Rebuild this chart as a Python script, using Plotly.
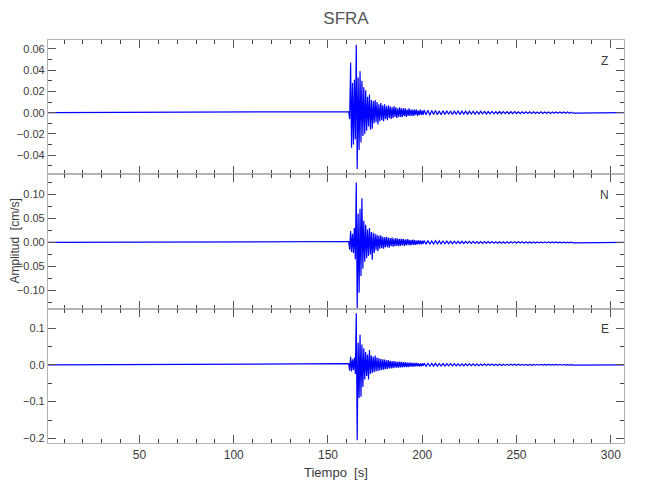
import plotly.graph_objects as go
from plotly.subplots import make_subplots

# ---------------- data ----------------
station = "SFRA"
components = ["Z", "N", "E"]

record_start = 1.5      # s
record_end = 307.0      # s
event_t0 = 161.0        # s, first sample of the strong-motion window
event_dt = 0.5          # s
coda_t0 = 201.0         # s
coda_dt = 1.0           # s

z_event = [0.001, -0.006, 0.047, -0.033, 0.028, -0.030, 0.031, -0.025, 0.064, -0.053,
           0.033, -0.035, 0.039, -0.028, 0.030, -0.022, 0.024, -0.020, 0.021, -0.017,
           0.015, -0.013, 0.017, -0.016, 0.012, -0.015, 0.011, -0.010, 0.012, -0.009,
           0.010, -0.011, 0.008, -0.008, 0.009, -0.007, 0.007, -0.008, 0.008, -0.006,
           0.006, -0.007, 0.007, -0.005, 0.006, -0.006, 0.005, -0.005, 0.006, -0.004,
           0.005, -0.005, 0.004, -0.004, 0.005, -0.004, 0.004, -0.004, 0.004, -0.003,
           0.004, -0.004, 0.003, -0.003, 0.004, -0.003, 0.003, -0.003, 0.003, -0.003,
           0.003, -0.002, 0.003, -0.003, 0.002, -0.002, 0.003, -0.002, 0.002, -0.002]
z_coda = [0.0025, -0.002, 0.0022, -0.0024, 0.002, -0.0018, 0.0021, -0.002, 0.0017, -0.0019,
          0.0018, -0.0016, 0.0019, -0.0015, 0.0016, -0.0017, 0.0015, -0.0014, 0.0016, -0.0015,
          0.0014, -0.0013, 0.0015, -0.0014, 0.0013, -0.0012, 0.0014, -0.0013, 0.0012, -0.0012,
          0.0013, -0.0011, 0.0012, -0.0012, 0.0011, -0.001, 0.0012, -0.0011, 0.001, -0.001,
          0.0011, -0.001, 0.001, -0.0009, 0.001, -0.001, 0.0009, -0.0009, 0.001, -0.0008,
          0.0009, -0.0009, 0.0008, -0.0008, 0.0009, -0.0008, 0.0008, -0.0007, 0.0008, -0.0008,
          0.0007, -0.0007, 0.0008, -0.0007, 0.0007, -0.0006, 0.0007, -0.0007, 0.0006, -0.0006,
          0.0007, -0.0006, 0.0006, -0.0006, 0.0006, -0.0005, 0.0006, -0.0005, 0.0005, -0.0005]

n_event = [0.002, -0.015, 0.024, -0.020, 0.018, -0.022, 0.030, -0.035, 0.125, -0.140,
           0.060, -0.105, 0.070, -0.070, 0.092, -0.055, 0.045, -0.040, 0.037, -0.033,
           0.027, -0.028, 0.030, -0.025, 0.022, -0.036, 0.020, -0.022, 0.018, -0.016,
           0.016, -0.018, 0.014, -0.013, 0.015, -0.012, 0.012, -0.013, 0.011, -0.010,
           0.012, -0.010, 0.010, -0.011, 0.009, -0.008, 0.010, -0.009, 0.008, -0.008,
           0.009, -0.007, 0.008, -0.008, 0.007, -0.007, 0.008, -0.006, 0.007, -0.007,
           0.006, -0.006, 0.007, -0.005, 0.006, -0.006, 0.005, -0.005, 0.006, -0.005,
           0.005, -0.005, 0.004, -0.004, 0.005, -0.004, 0.004, -0.004, 0.004, -0.003]
n_coda = [0.004, -0.0035, 0.0038, -0.0036, 0.0032, -0.0034, 0.0035, -0.003, 0.0031, -0.0029,
          0.003, -0.0027, 0.0029, -0.0026, 0.0027, -0.0025, 0.0026, -0.0024, 0.0025, -0.0023,
          0.0024, -0.0022, 0.0023, -0.0021, 0.0022, -0.002, 0.0021, -0.002, 0.002, -0.0019,
          0.0019, -0.0018, 0.0019, -0.0017, 0.0018, -0.0017, 0.0017, -0.0016, 0.0016, -0.0016,
          0.0016, -0.0015, 0.0015, -0.0015, 0.0015, -0.0014, 0.0014, -0.0014, 0.0014, -0.0013,
          0.0013, -0.0013, 0.0013, -0.0012, 0.0012, -0.0012, 0.0012, -0.0011, 0.0011, -0.0011,
          0.0011, -0.001, 0.001, -0.001, 0.001, -0.001, 0.0009, -0.0009, 0.0009, -0.0009,
          0.0009, -0.0008, 0.0008, -0.0008, 0.0008, -0.0008, 0.0007, -0.0007, 0.0007, -0.0007]

e_event = [0.003, -0.016, 0.022, -0.018, 0.015, -0.014, 0.020, -0.025, 0.140, -0.205,
           0.060, -0.090, 0.082, -0.087, 0.055, -0.060, 0.045, -0.040, 0.035, -0.030,
           0.028, -0.040, 0.040, -0.025, 0.025, -0.022, 0.022, -0.020, 0.025, -0.018,
           0.020, -0.017, 0.018, -0.015, 0.016, -0.014, 0.015, -0.013, 0.014, -0.012,
           0.012, -0.011, 0.013, -0.010, 0.011, -0.010, 0.010, -0.009, 0.010, -0.008,
           0.009, -0.008, 0.008, -0.008, 0.009, -0.007, 0.008, -0.007, 0.007, -0.006,
           0.007, -0.006, 0.006, -0.006, 0.006, -0.005, 0.006, -0.005, 0.005, -0.005,
           0.005, -0.004, 0.005, -0.004, 0.004, -0.004, 0.004, -0.004, 0.004, -0.003]
e_coda = [0.0045, -0.004, 0.0042, -0.0038, 0.004, -0.0036, 0.0038, -0.0035, 0.0036, -0.0033,
          0.0034, -0.0032, 0.0033, -0.003, 0.0031, -0.0029, 0.003, -0.0028, 0.0028, -0.0027,
          0.0027, -0.0026, 0.0026, -0.0025, 0.0025, -0.0024, 0.0024, -0.0023, 0.0023, -0.0022,
          0.0022, -0.0021, 0.0021, -0.002, 0.002, -0.002, 0.0019, -0.0019, 0.0018, -0.0018,
          0.0018, -0.0017, 0.0017, -0.0016, 0.0016, -0.0016, 0.0015, -0.0015, 0.0015, -0.0014,
          0.0014, -0.0014, 0.0013, -0.0013, 0.0013, -0.0012, 0.0012, -0.0012, 0.0012, -0.0011,
          0.0011, -0.0011, 0.001, -0.001, 0.001, -0.001, 0.001, -0.0009, 0.0009, -0.0009,
          0.0009, -0.0008, 0.0008, -0.0008, 0.0008, -0.0007, 0.0007, -0.0007, 0.0007, -0.0007]

y_ranges = [[-0.058, 0.0684], [-0.138, 0.142], [-0.2125, 0.1526]]
y_dticks = [0.02, 0.05, 0.1]
y_formats = [".2f", ".2f", ".1f"]
x_tickvals = [50, 100, 150, 200, 250, 300]

# ---------------- figure ----------------
FONT = "Liberation Sans, Arial, sans-serif"
AXIS_GRAY = "#b4b4b4"
TXT = "#3a3a3a"

series = [(z_event, z_coda), (n_event, n_coda), (e_event, e_coda)]

fig = make_subplots(rows=3, cols=1, shared_xaxes=True, vertical_spacing=0)

for row, (ev, co) in enumerate(series, start=1):
    t = [record_start]
    t += [event_t0 + i * event_dt for i in range(len(ev))]
    t += [coda_t0 + i * coda_dt for i in range(len(co))]
    t += [record_end]
    y = [0.0] + ev + co + [0.0]
    fig.add_trace(go.Scatter(x=t, y=y, mode="lines",
                             line=dict(color="#0000ff", width=1.2),
                             showlegend=False, hoverinfo="skip"),
                  row=row, col=1)

for row in range(1, 4):
    fig.update_yaxes(row=row, col=1,
                     range=y_ranges[row - 1], dtick=y_dticks[row - 1], tick0=0,
                     tickformat=y_formats[row - 1], automargin=False,
                     ticks="inside", ticklen=8, tickwidth=1, tickcolor="#555",
                     minor=dict(ticks="inside", ticklen=4, tickcolor="#444",
                                dtick=y_dticks[row - 1] / 2, tick0=0),
                     showline=True, linecolor=AXIS_GRAY, linewidth=1.2,
                     mirror="allticks", showgrid=False, zeroline=False,
                     tickfont=dict(family=FONT, size=11, color=TXT))
    fig.update_xaxes(row=row, col=1,
                     range=[record_start, record_end],
                     tickvals=x_tickvals, automargin=False,
                     ticks="inside", ticklen=8, tickwidth=1, tickcolor="#555",
                     minor=dict(ticks="inside", ticklen=4, tickcolor="#444",
                                dtick=10, tick0=0),
                     showline=True, linecolor=AXIS_GRAY, linewidth=1.2,
                     mirror="allticks", showgrid=False, zeroline=False,
                     tickfont=dict(family=FONT, size=12, color=TXT))

for row, comp in enumerate(components, start=1):
    suffix = "" if row == 1 else str(row)
    fig.add_annotation(text=comp, xref=f"x{suffix} domain", yref=f"y{suffix} domain",
                       x=0.967, y=0.845, showarrow=False, xanchor="center", yanchor="middle",
                       font=dict(family=FONT, size=12, color=TXT))

fig.add_annotation(text="Amplitud  [cm/s]", xref="paper", yref="paper",
                   x=-0.059, y=0.5, textangle=-90, showarrow=False,
                   xanchor="center", yanchor="middle",
                   font=dict(family=FONT, size=12, color=TXT))
fig.add_annotation(text="Tiempo  [s]", xref="paper", yref="paper",
                   x=0.5, y=-0.05, showarrow=False, xanchor="center", yanchor="top",
                   font=dict(family=FONT, size=13, color=TXT))

fig.update_layout(
    width=650, height=500,
    margin=dict(l=40, r=34, t=32, b=65),
    paper_bgcolor="white", plot_bgcolor="white",
    title=dict(text=station, x=0.52, xanchor="center", y=0.98, yanchor="middle",
               font=dict(family=FONT, size=17, color="#555")),
    font=dict(family=FONT),
)

fig.write_html("out.html")
